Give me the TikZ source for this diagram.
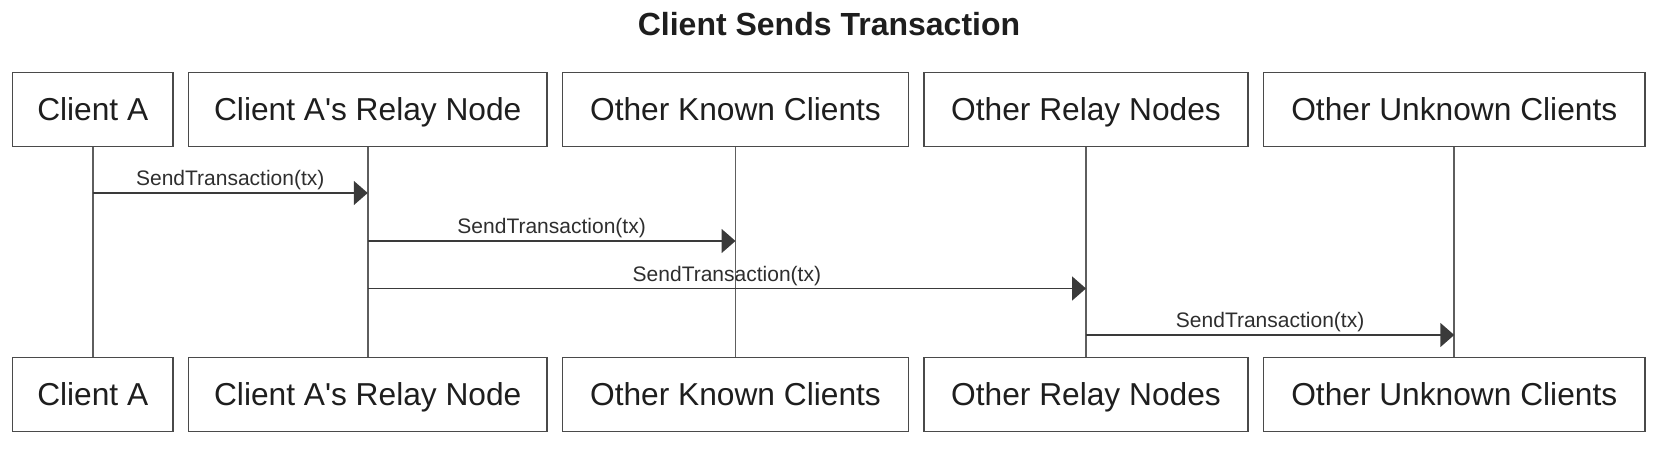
\documentclass[tikz,border=0pt]{standalone}
\usepackage{fontspec}
\setmainfont{Liberation Sans}
\newfontfamily\plainarial{Liberation Sans}
\usetikzlibrary{arrows.meta}
\definecolor{boxc}{HTML}{4A4A4A}
\definecolor{lifec}{HTML}{5E5E5E}
\definecolor{arrc}{HTML}{3A3A3A}
\definecolor{txt}{HTML}{1E1E1E}
\definecolor{lbl}{HTML}{2E2E2E}
\begin{document}
\begin{tikzpicture}[x=1pt,y=1pt,
  actor/.style={draw=boxc, line width=1.4pt, fill=white, inner sep=0pt,
    minimum height=74pt, text height=22.7pt, text depth=0pt,
    font=\plainarial\fontsize{31.7}{38}\selectfont, text=txt},
  life/.style={draw=lifec, line width=1.7pt},
  msg/.style={draw=arrc, line width=1.8pt, -{Triangle[length=14pt,width=24pt]}},
  msglabel/.style={anchor=south, inner sep=0pt, yshift=6.5pt, text depth=0pt,
    font=\plainarial\fontsize{21}{25}\selectfont, text=lbl}]
\useasboundingbox (0,0) rectangle (1660,-462);
\node[font=\plainarial\bfseries\fontsize{32}{38}\selectfont, text=txt, text height=23pt,
  text depth=0pt, inner sep=0pt] (title) at (829,-24) {Client Sends Transaction};
% top actors
\node[actor, minimum width=160.5pt] (aT) at (92.75,-109.5) {Client A};
\node[actor, minimum width=358.5pt] (rT) at (367.75,-109.5) {Client A's Relay Node};
\node[actor, minimum width=346pt] (kT) at (735.5,-109.5) {Other Known Clients};
\node[actor, minimum width=324pt] (nT) at (1086,-109.5) {Other Relay Nodes};
\node[actor, minimum width=381.5pt] (uT) at (1454.25,-109.5) {Other Unknown Clients};
% bottom actors
\node[actor, minimum width=160.5pt] (aB) at (92.75,-394.25) {Client A};
\node[actor, minimum width=358.5pt] (rB) at (367.75,-394.25) {Client A's Relay Node};
\node[actor, minimum width=346pt] (kB) at (735.5,-394.25) {Other Known Clients};
\node[actor, minimum width=324pt] (nB) at (1086,-394.25) {Other Relay Nodes};
\node[actor, minimum width=381.5pt] (uB) at (1454.25,-394.25) {Other Unknown Clients};
% lifelines
\draw[life] (aT) -- (aB);
\draw[life] (rT) -- (rB);
\draw[life] (kT) -- (kB);
\draw[life] (nT) -- (nB);
\draw[life] (uT) -- (uB);
% message levels
\coordinate (m1) at (0,-193);
\coordinate (m2) at (0,-241);
\coordinate (m3) at (0,-288.5);
\coordinate (m4) at (0,-335);
\draw[msg] (aT |- m1) -- (rT |- m1) node[midway, msglabel] {SendTransaction(tx)};
\draw[msg] (rT |- m2) -- (kT |- m2) node[midway, msglabel] {SendTransaction(tx)};
\draw[msg] (rT |- m3) -- (nT |- m3) node[midway, msglabel] {SendTransaction(tx)};
\draw[msg] (nT |- m4) -- (uT |- m4) node[midway, msglabel] {SendTransaction(tx)};
\end{tikzpicture}
\end{document}
